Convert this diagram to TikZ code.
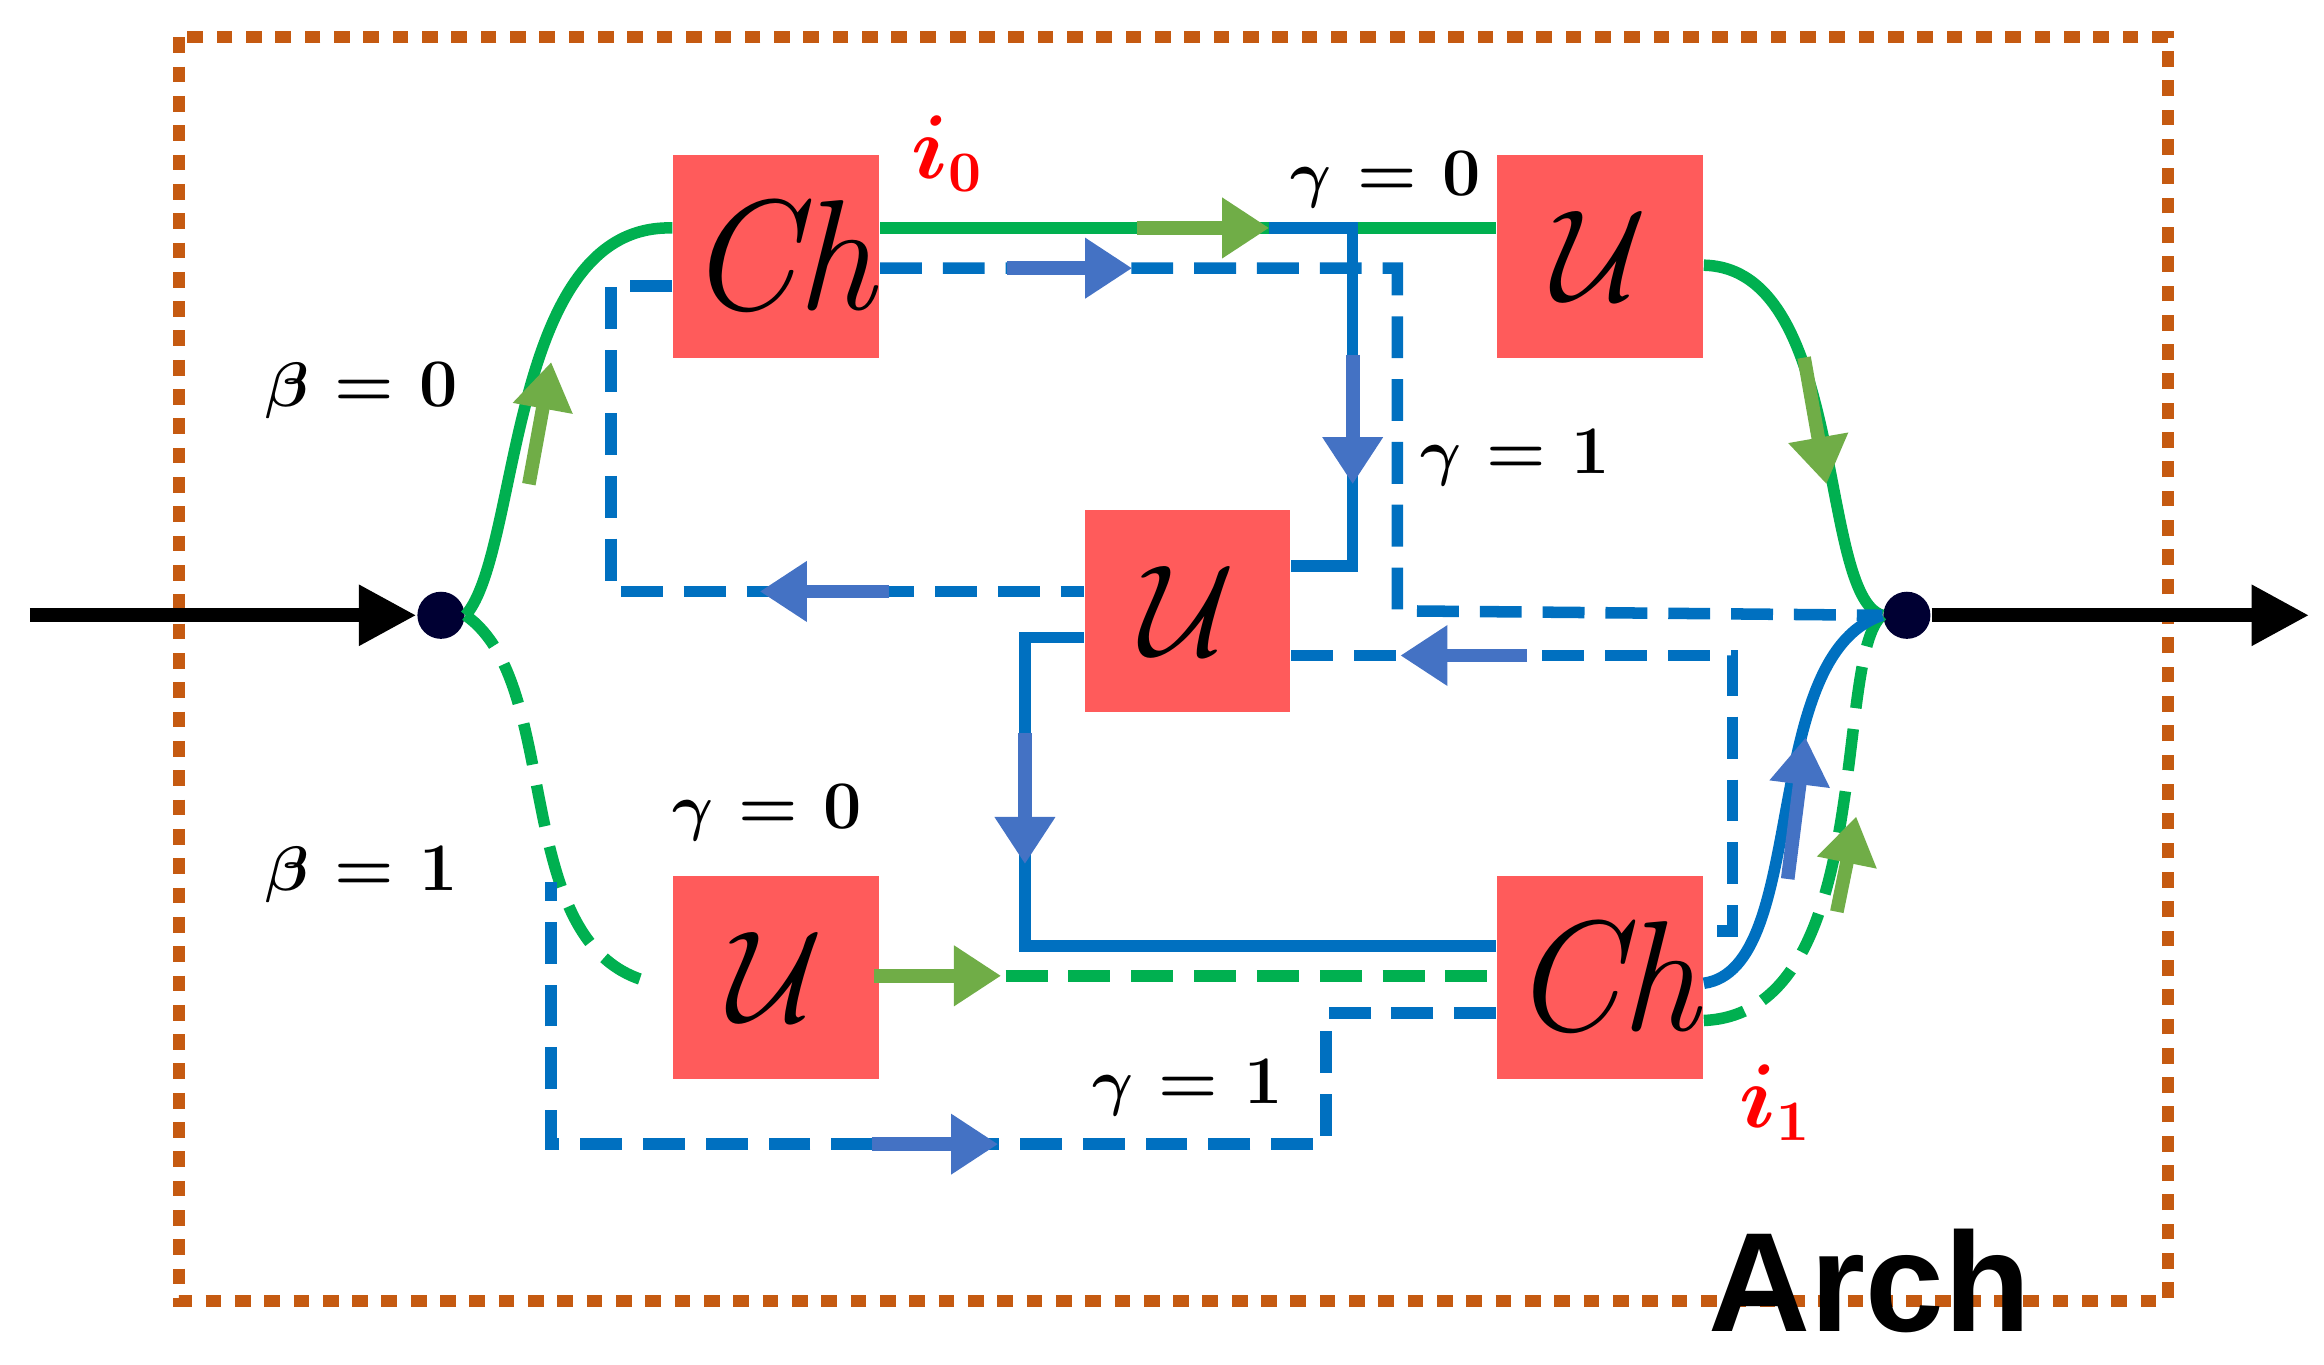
\documentclass[tikz,border=0pt]{standalone}
\usepackage{amsmath,bm}
\usepackage{fontspec}
\newfontfamily\archfont{Liberation Sans}
\usetikzlibrary{arrows.meta}
\definecolor{borange}{HTML}{C55A11}
\definecolor{bxred}{HTML}{FF5B5B}
\definecolor{gline}{HTML}{00B050}
\definecolor{garr}{HTML}{70AD47}
\definecolor{bline}{HTML}{0070C0}
\definecolor{barr}{HTML}{4472C4}
\begin{document}
\begin{tikzpicture}[x=0.1mm,y=-0.1mm,
  box/.style={fill=bxred,minimum width=13.8mm,minimum height=13.6mm,text width=12mm,align=center,inner sep=0pt,font=\fontsize{30}{34}\selectfont\itshape},
  gsol/.style={gline,line width=2.2pt},
  gdash/.style={gline,line width=2.2pt,dash pattern=on 8pt off 4pt},
  bsol/.style={bline,line width=2.2pt},
  bdash/.style={bline,line width=2.2pt,dash pattern=on 8pt off 4pt},
  garrow/.style={garr,line width=2.6pt,-{Triangle[length=9pt,width=11pt]}},
  barrow/.style={barr,line width=2.6pt,-{Triangle[length=9pt,width=11pt]}},
  lab/.style={font=\fontsize{13}{15}\selectfont\bfseries},
  red lab/.style={text=red,font=\fontsize{16}{18}\selectfont\bfseries}]
\useasboundingbox (0,0) rectangle (1560,916);
\draw[borange,line width=2.3pt,dash pattern=on 3pt off 2.6pt] (120,25) rectangle (1455,873);
% nodes
\node[box] (ch1) at (521,172) {Ch};
\node[box] (u1) at (1074,172) {$\mathcal{U}$};
\node[box] (u2) at (797,410) {$\mathcal{U}$};
\node[box] (u3) at (521,656) {$\mathcal{U}$};
\node[box] (ch2) at (1074,656) {Ch};
\node[circle,fill=black!80!blue,minimum size=9pt,inner sep=0pt] (dl) at (296,413) {};
\node[circle,fill=black!80!blue,minimum size=9pt,inner sep=0pt] (dr) at (1280,413) {};
\coordinate (in) at (20,413);
\coordinate (out) at (1550,413);
\draw[line width=2.6pt,-{Triangle[length=11pt,width=11pt]}] (in) -- (dl.west);
\draw[line width=2.6pt,-{Triangle[length=11pt,width=11pt]}] (dr.east) -- (out);
% green solid
\draw[gsol] (dl.east) .. controls (350,370) and (340,150) .. (ch1.west |- 0,153);
\draw[gsol] (ch1.east |- 0,153) -- (u1.west |- 0,153);
\draw[gsol] (u1.east |- 0,178) .. controls (1240,180) and (1220,400) .. (dr.west);
% green dashed
\draw[gdash] (dl.east) .. controls (380,460) and (340,640) .. (440,660);
\draw[gdash] (u3.east |- 0,655) -- (ch2.west |- 0,655);
\draw[gdash] (ch2.east |- 0,685) .. controls (1260,680) and (1230,440) .. (dr.west);
% blue solid
\draw[bsol] (852,153) -- (908,153) -- (908,380) -- (u2.east |- 0,380);
\draw[bsol] (u2.west |- 0,428) -- (688,428) -- (688,635) -- (ch2.west |- 0,635);
\draw[bsol] (ch2.east |- 0,660) .. controls (1215,650) and (1180,440) .. (dr.west);
% blue dashed
\draw[bdash] (ch1.east |- 0,180) -- (938,180) -- (938,410) -- (dr.west);
\draw[bdash] (ch1.west |- 0,192) -- (410,192) -- (410,397) -- (u2.west |- 0,397);
\draw[bdash] (u2.east |- 0,440) -- (1163,440) -- (1163,625) -- (ch2.east |- 0,625);
\draw[bdash] (ch2.west |- 0,680) -- (890,680) -- (890,768) -- (370,768) -- (370,592);
% arrow marks
\draw[garrow] (355,325) -- (370,243);
\draw[garrow] (763,153) -- (852,153);
\draw[garrow] (1211,240) -- (1226,325);
\draw[garrow] (587,655) -- (672,655);
\draw[garrow] (1233,612) -- (1246,548);
\draw[barrow] (676,180) -- (760,180);
\draw[barrow] (908,238) -- (908,325);
\draw[barrow] (597,397) -- (510,397);
\draw[barrow] (688,492) -- (688,580);
\draw[barrow] (1025,440) -- (940,440);
\draw[barrow] (1200,590) -- (1212,495);
\draw[barrow] (585,768) -- (670,768);
% labels
\node[lab] (b0) at (243,262) {$\bm{\beta}$ = 0};
\node[lab] (b1) at (243,587) {$\bm{\beta}$ = 1};
\node[lab] (g0a) at (930,120) {$\bm{\gamma}$ = 0};
\node[lab] (g1a) at (1017,307) {$\bm{\gamma}$ = 1};
\node[lab] (g0b) at (515,545) {$\bm{\gamma}$ = 0};
\node[lab] (g1b) at (797,730) {$\bm{\gamma}$ = 1};
\node[red lab] (i0) at (636,103) {$\bm{i_0}$};
\node[red lab] (i1) at (1192,740) {$\bm{i_1}$};
\node[font=\archfont\bfseries\fontsize{27}{29}\selectfont] (arch) at (1255,860) {Arch};
\end{tikzpicture}
\end{document}
